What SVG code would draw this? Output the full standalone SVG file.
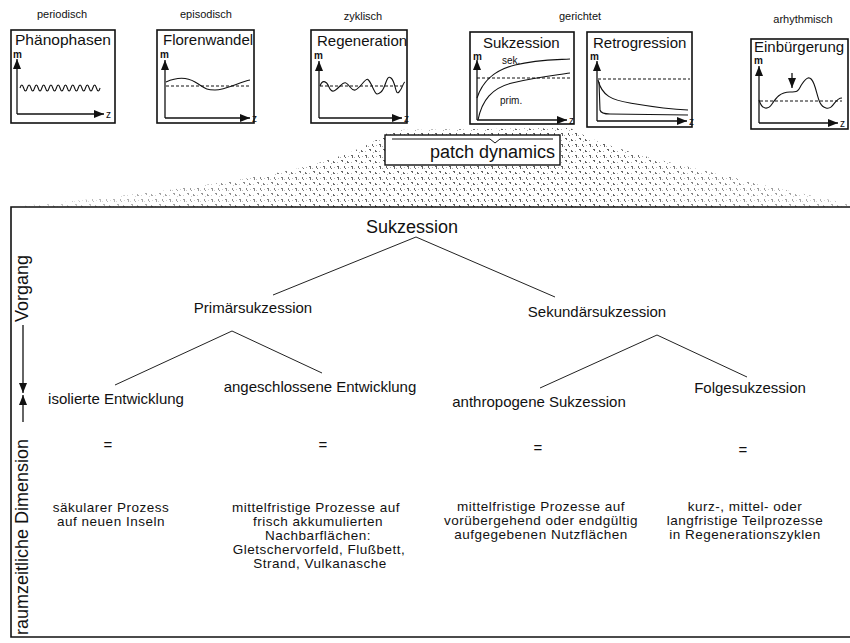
<svg xmlns="http://www.w3.org/2000/svg" width="850" height="643" viewBox="0 0 850 643">
  <style>
    text { font-family: "Liberation Sans", Arial, sans-serif; fill: #111; }
    .cap { font-size: 11px; text-anchor: middle; }
    .ttl { font-size: 15px; }
    .ax { font-size: 10px; font-weight: bold; }
    .tiny { font-size: 10px; }
    .box { fill: #fff; stroke: #111; stroke-width: 1.6; }
    .axis { fill: none; stroke: #111; stroke-width: 1.3; }
    .curve { fill: none; stroke: #111; stroke-width: 1.1; }
    .dash { fill: none; stroke: #111; stroke-width: 1; stroke-dasharray: 3 2; }
    .node { font-size: 15px; text-anchor: middle; }
    .desc { font-size: 13.5px; text-anchor: middle; letter-spacing: 0.5px; }
    .link { stroke: #222; stroke-width: 1; fill: none; }
    .frame { stroke: #111; stroke-width: 1.6; fill: none; }
  </style>
  <defs>
    <marker id="tip" viewBox="0 0 10 8" refX="10" refY="4" markerWidth="10" markerHeight="8" markerUnits="userSpaceOnUse" orient="auto">
      <path d="M0,0 L10,4 L0,8 Z" fill="#111"/>
    </marker>
    <pattern id="grain" width="14" height="11" patternUnits="userSpaceOnUse">
      <path d="M1,1h2v1h-2z M2,2h1v2h-1z M8,1h1v2h-1z M9,3h1v1h-1z M5,6h2v1h-2z M6,7h1v1h-1z M11,7h1v2h-1z M12,8h1v1h-1z" fill="#555"/>
      <path d="M4,3h1v1h-1z M12,2h1v1h-1z M1,8h1v1h-1z M9,9h1v1h-1z" fill="#aaa"/>
    </pattern>
    <linearGradient id="fadeX" x1="0" y1="0" x2="1" y2="0">
      <stop offset="0" stop-color="#fff" stop-opacity="0.2"/>
      <stop offset="0.4" stop-color="#fff" stop-opacity="0.9"/>
      <stop offset="0.7" stop-color="#fff" stop-opacity="0.95"/>
      <stop offset="1" stop-color="#fff" stop-opacity="0.4"/>
    </linearGradient>
    <mask id="moundFade">
      <rect x="0" y="120" width="850" height="90" fill="url(#fadeX)"/>
    </mask>
  </defs>

  <rect width="850" height="643" fill="#fff"/>

  <!-- stippled mound beneath "patch dynamics" -->
  <path d="M20,206 C110,198 220,186 300,168 C340,158 370,146 392,130 L570,128 C600,146 650,158 710,172 C770,186 820,198 850,204 L850,207 L20,207 Z"
        fill="url(#grain)" mask="url(#moundFade)"/>

  <!-- process type panels -->
  <g id="phaenophasen">
    <text class="cap" x="62" y="18">periodisch</text>
    <rect class="box" x="11" y="30" width="104" height="93"/>
    <text class="ttl" x="15" y="45" textLength="96" lengthAdjust="spacingAndGlyphs">Phänophasen</text>
    <text class="ax" x="13" y="58">m</text>
    <path class="axis" d="M17,114 V59" marker-end="url(#tip)"/>
    <path class="axis" d="M17,114 H104" marker-end="url(#tip)"/>
    <text class="tiny" x="106" y="118">z</text>
    <path class="curve" d="M20,88 q1.82,-6 3.64,0 t3.64,0 t3.64,0 t3.64,0 t3.64,0 t3.64,0 t3.64,0 t3.64,0 t3.64,0 t3.64,0 t3.64,0 t3.64,0 t3.64,0 t3.64,0 t3.64,0 t3.64,0 t3.64,0 t3.64,0 t3.64,0 t3.64,0 t3.64,0 t3.64,0"/>
  </g>

  <g id="florenwandel">
    <text class="cap" x="206" y="18">episodisch</text>
    <rect class="box" x="157" y="30" width="97" height="93"/>
    <text class="ttl" x="163" y="45">Florenwandel</text>
    <text class="ax" x="160" y="58">m</text>
    <path class="axis" d="M165,118 V60" marker-end="url(#tip)"/>
    <path class="axis" d="M165,118 H250" marker-end="url(#tip)"/>
    <text class="tiny" x="252" y="122">z</text>
    <path class="dash" d="M166,86 H250"/>
    <path class="curve" d="M166,82 C175,78 185,76 195,82 S205,90 215,90 S240,82 250,80"/>
  </g>

  <g id="regeneration">
    <text class="cap" x="363" y="20">zyklisch</text>
    <rect class="box" x="311" y="30" width="96" height="93"/>
    <text class="ttl" x="317" y="46">Regeneration</text>
    <text class="ax" x="314" y="59">m</text>
    <path class="axis" d="M319,118 V61" marker-end="url(#tip)"/>
    <path class="axis" d="M319,118 H402" marker-end="url(#tip)"/>
    <text class="tiny" x="404" y="122">z</text>
    <path class="dash" d="M320,86 H402"/>
    <path class="curve" d="M320,86 C322,80 326,80 329,87 S335,91 340,86 S346,82 350,87 S356,91 362,84 S368,78 372,86 S376,96 381,92 S386,74 391,78 S395,96 399,92 S403,82 405,82"/>
  </g>

  <g id="sukzession-panel">
    <text class="cap" x="580" y="20">gerichtet</text>
    <rect class="box" x="470" y="32" width="104" height="92"/>
    <text class="ttl" x="483" y="48">Sukzession</text>
    <text class="ax" x="473" y="60">m</text>
    <path class="axis" d="M477,120 V60" marker-end="url(#tip)"/>
    <path class="axis" d="M477,120 H567" marker-end="url(#tip)"/>
    <text class="tiny" x="569" y="124">z</text>
    <path class="dash" d="M477,78 H572"/>
    <path class="curve" d="M477,98 C483,80 495,70 515,65 S550,60 570,59"/>
    <path class="curve" d="M478,120 C482,100 492,88 512,83 S550,76 570,73"/>
    <text class="tiny" x="502" y="64">sek.</text>
    <text class="tiny" x="500" y="104">prim.</text>
  </g>

  <g id="retrogression">
    <rect class="box" x="587" y="32" width="105" height="95"/>
    <text class="ttl" x="593" y="48">Retrogression</text>
    <text class="ax" x="590" y="60">m</text>
    <path class="axis" d="M597,121 V61" marker-end="url(#tip)"/>
    <path class="axis" d="M597,121 H687" marker-end="url(#tip)"/>
    <text class="tiny" x="689" y="125">z</text>
    <path class="dash" d="M598,79 H690"/>
    <path class="curve" d="M598,80 C602,96 612,100 630,103 S665,109 688,110"/>
    <path class="curve" d="M599,82 L600,110 Q601,114 610,114 L688,115"/>
  </g>

  <g id="einbuergerung">
    <text class="cap" x="803" y="23">arhythmisch</text>
    <rect class="box" x="751" y="39" width="97" height="90"/>
    <text class="ttl" x="754" y="52">Einbürgerung</text>
    <text class="ax" x="754" y="64">m</text>
    <path class="axis" d="M759,123 V66" marker-end="url(#tip)"/>
    <path class="axis" d="M759,123 H838" marker-end="url(#tip)"/>
    <text class="tiny" x="840" y="127">z</text>
    <path class="dash" d="M760,101 H842"/>
    <path class="curve" d="M759,100 C762,110 768,110 772,104 S780,92 790,92 S798,90 802,84 S810,74 814,84 S818,106 826,108 S834,98 842,98"/>
    <path class="axis" d="M792,73 V88" marker-end="url(#tip)"/>
  </g>

  <g id="patch-dynamics">
    <rect x="385" y="135" width="175" height="30" fill="#fff" stroke="#111" stroke-width="1.4"/>
    <path d="M392,139 H490 L495,143 L500,139 H553" fill="none" stroke="#111" stroke-width="1"/>
    <text x="430" y="158" font-size="18">patch dynamics</text>
  </g>

  <!-- lower frame -->
  <path class="frame" d="M850,207 H11 V637 H850"/>

  <!-- axis along the left edge -->
  <g id="dimension-axis">
    <text font-size="18" transform="translate(28,322) rotate(-90)">Vorgang</text>
    <text font-size="18" transform="translate(28,635) rotate(-90)">raumzeitliche Dimension</text>
    <path class="axis" d="M23,325 V393" marker-end="url(#tip)"/>
    <path class="axis" d="M23,422 V395" marker-end="url(#tip)"/>
  </g>

  <!-- tree connectors -->
  <g id="connectors">
    <path class="link" d="M273,295 L416,237 L555,297"/>
    <path class="link" d="M115,385 L232,331 L322,373"/>
    <path class="link" d="M540,388 L657,335 L747,377"/>
  </g>

  <g id="node-sukzession">
    <text x="412" y="233" font-size="18" text-anchor="middle">Sukzession</text>
  </g>
  <g id="node-primaer">
    <text class="node" x="253" y="313">Primärsukzession</text>
  </g>
  <g id="node-sekundaer">
    <text class="node" x="597" y="317">Sekundärsukzession</text>
  </g>
  <g id="node-isoliert">
    <text class="node" x="116" y="404">isolierte Entwicklung</text>
    <text class="node" x="108" y="450">=</text>
    <text class="desc" x="111" y="512">säkularer Prozess</text>
    <text class="desc" x="111" y="526">auf neuen Inseln</text>
  </g>
  <g id="node-angeschlossen">
    <text class="node" x="320" y="392">angeschlossene Entwicklung</text>
    <text class="node" x="323" y="450">=</text>
    <text class="desc" x="316" y="512">mittelfristige Prozesse  auf</text>
    <text class="desc" x="318" y="526">frisch akkumulierten</text>
    <text class="desc" x="318" y="540">Nachbarflächen:</text>
    <text class="desc" x="319" y="554">Gletschervorfeld,  Flußbett,</text>
    <text class="desc" x="320" y="568">Strand, Vulkanasche</text>
  </g>
  <g id="node-anthropogen">
    <text class="node" x="539" y="407">anthropogene Sukzession</text>
    <text class="node" x="538" y="453">=</text>
    <text class="desc" x="541" y="511">mittelfristige Prozesse auf</text>
    <text class="desc" x="541" y="525">vorübergehend oder endgültig</text>
    <text class="desc" x="541" y="539">aufgegebenen Nutzflächen</text>
  </g>
  <g id="node-folge">
    <text class="node" x="750" y="393">Folgesukzession</text>
    <text class="node" x="743" y="455">=</text>
    <text class="desc" x="745" y="511">kurz-, mittel-  oder</text>
    <text class="desc" x="745" y="525">langfristige  Teilprozesse</text>
    <text class="desc" x="745" y="539">in Regenerationszyklen</text>
  </g>
</svg>
